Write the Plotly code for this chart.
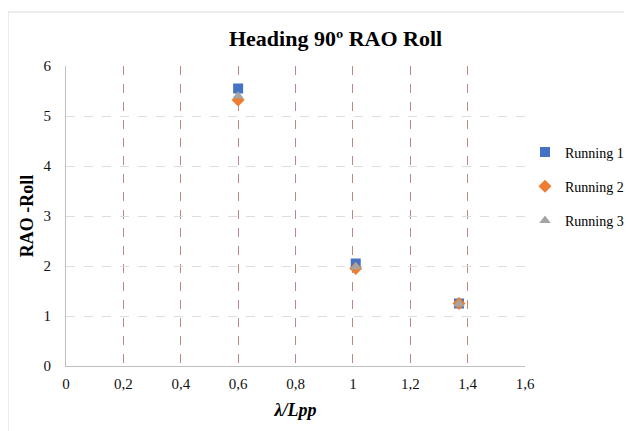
import plotly.graph_objects as go

x_vals = [0.6, 1.01, 1.37]
running1 = [5.55, 2.05, 1.25]
running2 = [5.32, 1.95, 1.25]
running3 = [5.40, 1.98, 1.24]
series_names = ["Running 1", "Running 2", "Running 3"]
colors = ["#4472C4", "#ED7D31", "#A5A5A5"]
symbols = ["square", "diamond", "triangle-up"]
x_ticks = [0, 0.2, 0.4, 0.6, 0.8, 1, 1.2, 1.4, 1.6]
x_tick_text = ["0", "0,2", "0,4", "0,6", "0,8", "1", "1,2", "1,4", "1,6"]
y_ticks = [0, 1, 2, 3, 4, 5, 6]

fig = go.Figure()
for name, ys, c, s in zip(series_names, [running1, running2, running3], colors, symbols):
    fig.add_trace(go.Scatter(x=x_vals, y=ys, mode="markers", name=name,
                             legendgroup=name,
                             marker=dict(color=c, symbol=s, size=10)))

font_serif = "Liberation Serif"
fig.update_layout(
    width=624, height=423,
    margin=dict(l=58, r=107, t=58, b=65, autoexpand=False),
    paper_bgcolor="white", plot_bgcolor="white",
    title=dict(text="<b>Heading 90º RAO Roll</b>", x=0.525, xanchor="center",
               y=0.928, yanchor="middle",
               font=dict(family=font_serif, size=22, color="black")),
    font=dict(family=font_serif, size=15, color="#111"),
    showlegend=True,
    legend=dict(x=1.0, xanchor="left", y=0.765, yanchor="top",
                font=dict(family=font_serif, size=14, color="black"),
                tracegroupgap=13, itemwidth=30, bgcolor="rgba(0,0,0,0)"),
    xaxis=dict(range=[0, 1.6], tickvals=x_ticks, ticktext=x_tick_text,
               showgrid=True, gridcolor="#B98A84", griddash="dash", gridwidth=1,
               zeroline=False, showline=True, linecolor="#BFBFBF", linewidth=1,
               ticks="", ticklabelstandoff=4,
               tickfont=dict(family=font_serif, size=15, color="#111"),
               title=dict(text="<b><i>λ/Lpp</i></b>", standoff=12,
                          font=dict(family=font_serif, size=18, color="black"))),
    yaxis=dict(range=[0, 6], tickvals=y_ticks,
               showgrid=True, gridcolor="#DDDDDD", griddash="dash", gridwidth=1,
               zeroline=False, showline=True, linecolor="#BFBFBF", linewidth=1,
               ticks="", tickfont=dict(family=font_serif, size=15, color="#111"),
               ticklabelstandoff=11,
               title=dict(text="<b>RAO -Roll</b>", standoff=5,
                          font=dict(family=font_serif, size=18, color="black"))),
    shapes=[dict(type="rect", xref="paper", yref="paper",
                 x0=-58/459, x1=1.3, y0=-0.3, y1=(366-12)/300,
                 line=dict(color="#D9D9D9", width=1), fillcolor="rgba(0,0,0,0)",
                 layer="below")],
)

fig.write_html("out.html")
